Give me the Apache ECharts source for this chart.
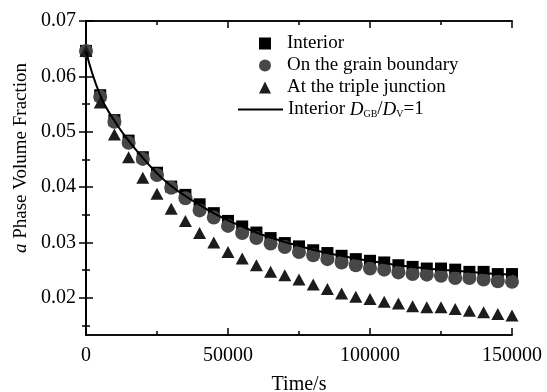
<!DOCTYPE html>
<html>
<head>
<meta charset="utf-8">
<script src="https://cdn.jsdelivr.net/npm/echarts@6/dist/echarts.min.js"></script>
<style>
  html, body { margin: 0; padding: 0; background: #fff; }
  #chart { width: 547px; height: 392px; }
</style>
</head>
<body>
<div id="chart"></div>
<script>
// Tiempo (s), un punto cada 5000 s
const times = [0, 5000, 10000, 15000, 20000, 25000, 30000, 35000, 40000, 45000,
  50000, 55000, 60000, 65000, 70000, 75000, 80000, 85000, 90000, 95000,
  100000, 105000, 110000, 115000, 120000, 125000, 130000, 135000, 140000, 145000, 150000];

const interiorVals = [0.0646, 0.0566, 0.0521, 0.0484, 0.0454, 0.0426, 0.0401, 0.0386, 0.0369, 0.0353,
  0.0339, 0.0329, 0.0318, 0.0308, 0.0299, 0.0293, 0.0286, 0.0281, 0.0276, 0.0270,
  0.0267, 0.0264, 0.0259, 0.0256, 0.0253, 0.0253, 0.0251, 0.0247, 0.0247, 0.0243, 0.0243];

const boundaryVals = [0.0646, 0.0563, 0.0518, 0.0480, 0.0451, 0.0422, 0.0399, 0.0380, 0.0358, 0.0345,
  0.0330, 0.0317, 0.0308, 0.0298, 0.0292, 0.0283, 0.0277, 0.0270, 0.0264, 0.0259,
  0.0253, 0.0251, 0.0246, 0.0243, 0.0242, 0.0240, 0.0236, 0.0236, 0.0233, 0.0230, 0.0229];

const junctionVals = [0.0646, 0.0553, 0.0495, 0.0454, 0.0417, 0.0388, 0.0361, 0.0339, 0.0317, 0.0300,
  0.0283, 0.0271, 0.0259, 0.0247, 0.0241, 0.0233, 0.0224, 0.0216, 0.0208, 0.0202,
  0.0198, 0.0193, 0.0190, 0.0185, 0.0183, 0.0183, 0.0180, 0.0177, 0.0174, 0.0171, 0.0168];

const modelVals = [0.0646, 0.0566, 0.0520, 0.0484, 0.0453, 0.0425, 0.0402, 0.0384, 0.0368, 0.0353,
  0.0340, 0.0329, 0.0318, 0.0309, 0.0301, 0.0294, 0.0287, 0.0281, 0.0276, 0.0271,
  0.0267, 0.0263, 0.0259, 0.0256, 0.0253, 0.0251, 0.0249, 0.0247, 0.0245, 0.0243, 0.0242];

const yMajorTicks = [0.02, 0.03, 0.04, 0.05, 0.06, 0.07];
const yMinorTicks = [0.015, 0.025, 0.035, 0.045, 0.055, 0.065];
const xMinorTicks = [25000, 75000, 125000];

const seriesNames = ['Interior', 'On the grain boundary', 'At the triple junction', 'Interior DGB/DV=1'];

const FONT = 'Liberation Serif';
const Y_MIN = 0.0133, Y_MAX = 0.07;

const chart = echarts.init(document.getElementById('chart'));

const pairs = vals => times.map((t, i) => [t, vals[i]]);

// Ejes: principal con etiquetas + ejes espejo / ticks menores sin etiquetas
function yAxisDef(pos, ticks, len, labels) {
  return {
    type: 'value', position: pos, min: Y_MIN, max: Y_MAX,
    axisLine: { show: true, lineStyle: { color: '#000', width: 1.5 } },
    axisTick: { show: true, inside: true, length: len, customValues: ticks, lineStyle: { color: '#000', width: 1.5 } },
    axisLabel: labels ? {
      show: true, customValues: yMajorTicks, fontFamily: FONT, fontSize: 20, color: '#000', margin: 10,
      formatter: v => v.toFixed(2)
    } : { show: false },
    splitLine: { show: false }
  };
}
function xAxisDef(pos, len, labels, minorOnly) {
  const ax = {
    type: 'value', position: pos, min: 0, max: 150000,
    axisLine: { show: true, lineStyle: { color: '#000', width: 1.5 } },
    axisTick: { show: true, inside: true, length: len, lineStyle: { color: '#000', width: 1.5 } },
    axisLabel: labels ? {
      show: true, fontFamily: FONT, fontSize: 20, color: '#000', margin: 11,
      formatter: v => String(v)
    } : { show: false },
    splitLine: { show: false }
  };
  if (minorOnly) ax.axisTick.customValues = xMinorTicks;
  else ax.interval = 50000;
  return ax;
}

const option = {
  backgroundColor: '#fff',
  animation: false,
  grid: { left: 86, right: 35, top: 21, bottom: 57, containLabel: false, outerBoundsMode: 'none' },
  xAxis: [
    Object.assign(xAxisDef('bottom', 7, true, false), {
      name: 'Time/s', nameLocation: 'middle', nameGap: 40,
      nameTextStyle: { fontFamily: FONT, fontSize: 20, color: '#000' }
    }),
    xAxisDef('bottom', 4, false, true),
    xAxisDef('top', 7, false, false),
    xAxisDef('top', 4, false, true)
  ],
  yAxis: [
    Object.assign(yAxisDef('left', yMajorTicks, 7, true), {
      name: '{i|a} Phase Volume Fraction', nameLocation: 'middle', nameGap: 50,
      nameTextStyle: {
        fontFamily: FONT, fontSize: 19, color: '#000', padding: [0, 0, 0, 40],
        rich: { i: { fontFamily: FONT, fontSize: 19, fontStyle: 'italic', color: '#000' } }
      }
    }),
    yAxisDef('left', yMinorTicks, 4, false),
    yAxisDef('right', yMajorTicks, 7, false),
    yAxisDef('right', yMinorTicks, 4, false)
  ],
  legend: [
    {
      // marcadores
      orient: 'vertical', left: 259, top: 34, padding: 0, itemGap: 3,
      itemWidth: 12, itemHeight: 12,
      data: [
        { name: seriesNames[0], icon: 'rect' },
        { name: seriesNames[1], icon: 'circle' },
        { name: seriesNames[2], icon: 'triangle' }
      ],
      textStyle: { fontFamily: FONT, fontSize: 19, color: '#000', lineHeight: 19, padding: [0, 0, 0, 11] }
    },
    {
      // curva del modelo
      orient: 'vertical', left: 238, top: 100, padding: 0,
      itemWidth: 45, itemHeight: 2,
      data: [{ name: seriesNames[3], icon: 'rect' }],
      textStyle: {
        fontFamily: FONT, fontSize: 19, color: '#000',
        rich: {
          n: { fontFamily: FONT, fontSize: 19, color: '#000' },
          i: { fontFamily: FONT, fontSize: 19, fontStyle: 'italic', color: '#000' },
          s: { fontFamily: FONT, fontSize: 10, color: '#000', padding: [9, 0, 0, 0] }
        }
      },
      formatter: () => '{n|Interior }{i|D}{s|GB}{n|/}{i|D}{s|V}{n|=1}'
    }
  ],
  series: [
    {
      name: seriesNames[0], type: 'scatter', data: pairs(interiorVals),
      symbol: 'rect', symbolSize: 12, itemStyle: { color: '#000', opacity: 1 }, z: 2
    },
    {
      name: seriesNames[1], type: 'scatter', data: pairs(boundaryVals),
      symbol: 'circle', symbolSize: 14, itemStyle: { color: '#474747', opacity: 1 }, z: 3
    },
    {
      name: seriesNames[2], type: 'scatter', data: pairs(junctionVals),
      symbol: 'triangle', symbolSize: [13, 12], itemStyle: { color: '#1c1c1c', opacity: 1 }, z: 4
    },
    {
      name: seriesNames[3], type: 'line', data: pairs(modelVals), smooth: true,
      symbol: 'none', lineStyle: { color: '#000', width: 2 }, itemStyle: { color: '#000' }, z: 5
    }
  ]
};

chart.setOption(option);
window.addEventListener('resize', () => chart.resize());
</script>
</body>
</html>
